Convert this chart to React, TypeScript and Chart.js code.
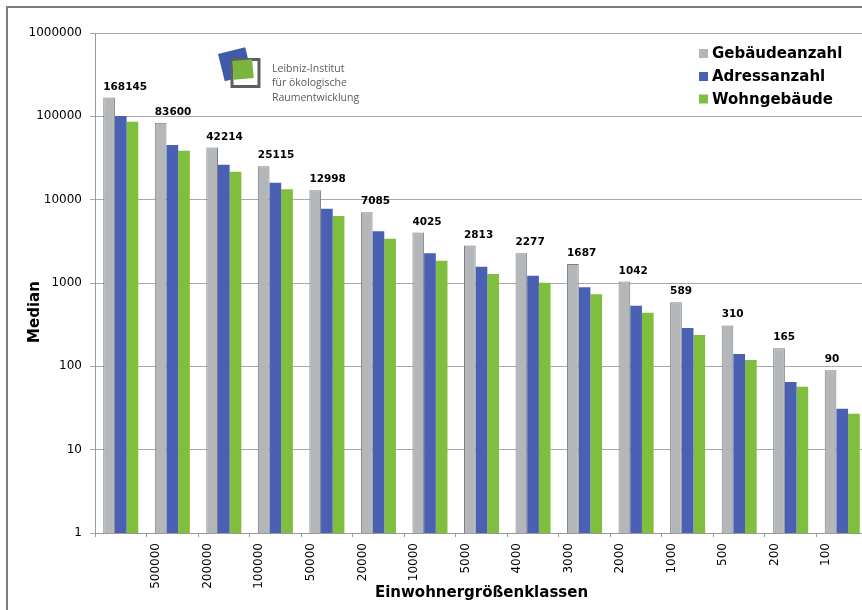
import React, { useEffect, useRef } from "react";
import { Chart, registerables } from "chart.js";

Chart.register(...registerables);

const categories = ["", "500000", "200000", "100000", "50000", "20000", "10000", "5000", "4000", "3000", "2000", "1000", "500", "200", "100"];
const gebaeudeanzahl = [168145, 83600, 42214, 25115, 12998, 7085, 4025, 2813, 2277, 1687, 1042, 589, 310, 165, 90];
const adressanzahl = [101000, 45300, 26300, 16000, 7800, 4170, 2270, 1570, 1220, 887, 535, 288, 141, 65, 31];
const wohngebaeude = [86000, 38700, 21700, 13300, 6370, 3400, 1850, 1280, 1010, 731, 440, 238, 119, 57, 27];
const yTicks = [1, 10, 100, 1000, 10000, 100000, 1000000];
const seriesNames = ["Gebäudeanzahl", "Adressanzahl", "Wohngebäude"];
const seriesColors = ["#b4b7ba", "#4a60b2", "#80be3e"];
const yTitle = "Median";
const xTitle = "Einwohnergrößenklassen";
const logoLines = ["Leibniz-Institut", "für ökologische", "Raumentwicklung"];

const FONT = "'DejaVu Sans', Verdana, sans-serif";

const valueLabels = {
  id: "valueLabels",
  afterDatasetsDraw(chart: any) {
    const ctx = chart.ctx;
    const meta = chart.getDatasetMeta(0);
    ctx.save();
    ctx.font = `bold 10.5px ${FONT}`;
    ctx.fillStyle = "#000";
    ctx.textAlign = "left";
    ctx.textBaseline = "alphabetic";
    meta.data.forEach((bar: any, i: number) => {
      const p = bar.getProps(["x", "y", "width"], true);
      ctx.fillText(String(gebaeudeanzahl[i]), p.x - p.width / 2, p.y - 8);
    });
    ctx.restore();
  },
};

const decorations = {
  id: "decorations",
  afterDraw(chart: any) {
    const ctx = chart.ctx;
    ctx.save();
    // Legend
    const rows = [53.5, 76.5, 99];
    ctx.font = `bold 15px ${FONT}`;
    ctx.textAlign = "left";
    ctx.textBaseline = "middle";
    chart.data.datasets.forEach((ds: any, i: number) => {
      ctx.fillStyle = ds.backgroundColor;
      ctx.fillRect(699, rows[i] - 4.5, 9, 9);
      ctx.fillStyle = "#000";
      ctx.fillText(ds.label, 712, rows[i] + 1);
    });

    // Y title
    ctx.save();
    ctx.translate(35, 312);
    ctx.rotate(-Math.PI / 2);
    ctx.font = `bold 15px ${FONT}`;
    ctx.textAlign = "center";
    ctx.textBaseline = "middle";
    ctx.fillStyle = "#000";
    ctx.fillText(yTitle, 0, 0);
    ctx.restore();

    // Logo
    ctx.save();
    ctx.translate(218, 54);
    ctx.rotate((-14 * Math.PI) / 180);
    ctx.fillStyle = "#3f5aa9";
    ctx.fillRect(0, 0, 28, 28);
    ctx.restore();
    ctx.save();
    ctx.fillStyle = "#ffffff";
    ctx.fillRect(233, 61, 25, 24);
    ctx.strokeStyle = "#5e5e5e";
    ctx.lineWidth = 3;
    ctx.strokeRect(232, 59.5, 27, 27);
    ctx.restore();
    ctx.save();
    ctx.translate(243, 70);
    ctx.rotate((-5 * Math.PI) / 180);
    ctx.fillStyle = "#7ab43f";
    ctx.fillRect(-10, -10, 20, 19);
    ctx.restore();
    ctx.font = `10.5px 'Open Sans', sans-serif`;
    ctx.fillStyle = "#5a5a5a";
    ctx.textAlign = "left";
    ctx.textBaseline = "middle";
    logoLines.forEach((t, i) => ctx.fillText(t, 272, 69 + i * 14.5));
    ctx.restore();
  },
};

export default function App() {
  const ref = useRef<HTMLCanvasElement | null>(null);

  useEffect(() => {
    if (!ref.current) return;
    const data = [gebaeudeanzahl, adressanzahl, wohngebaeude];
    const chart = new Chart(ref.current, {
      type: "bar",
      data: {
        labels: categories,
        datasets: data.map((d, i) => ({
          label: seriesNames[i],
          data: d,
          backgroundColor: seriesColors[i],
          borderColor: i === 0 ? "#7c7f83" : seriesColors[i],
          borderWidth: i === 0 ? 1 : 0,
          borderSkipped: "bottom",
          categoryPercentage: 0.68,
          barPercentage: 1.0,
        })),
      },
      options: {
        responsive: false,
        devicePixelRatio: 1,
        animation: false,
        layout: { padding: { left: 0, top: 33, right: 2, bottom: 0 } },
        plugins: {
          legend: { display: false },
          tooltip: { enabled: false },
          title: { display: false },
        },
        scales: {
          x: {
            type: "category",
            grid: {
              display: true,
              drawOnChartArea: false,
              drawTicks: true,
              tickLength: 4,
              color: "#9a9a9a",
            },
            border: { display: true, color: "#9a9a9a" },
            ticks: {
              color: "#000",
              font: { family: FONT, size: 12 },
              minRotation: 90,
              maxRotation: 90,
              autoSkip: false,
              padding: 6,
              labelOffset: -16,
            },
            title: {
              display: true,
              text: xTitle,
              color: "#000",
              font: { family: FONT, size: 15, weight: "bold" },
              padding: { top: 0, bottom: 8 },
            },
            afterFit(scale: any) {
              scale.height = 77;
            },
          },
          y: {
            type: "logarithmic",
            min: 1,
            max: 1000000,
            grid: {
              color: "#a8a8a8",
              drawTicks: true,
              tickLength: 5,
            },
            border: { display: true, color: "#9a9a9a" },
            ticks: {
              color: "#000",
              font: { family: FONT, size: 12 },
              padding: 8,
              callback: (v: any) => String(v),
            },
            afterBuildTicks(scale: any) {
              scale.ticks = yTicks.map((v) => ({ value: v }));
            },
            afterFit(scale: any) {
              scale.width = 95;
            },
          },
        },
      },
      plugins: [valueLabels, decorations],
    });
    return () => chart.destroy();
  }, []);

  return (
    <div
      style={{
        position: "fixed",
        left: 0,
        top: 0,
        width: 862,
        height: 610,
        overflow: "hidden",
        background: "#fff",
      }}
    >
      <div
        style={{
          position: "absolute",
          left: 6,
          top: 6,
          width: 1000,
          height: 1000,
          borderLeft: "2px solid #7c7c7c",
          borderTop: "2px solid #7c7c7c",
        }}
      />
      <canvas
        ref={ref}
        width={870}
        height={610}
        style={{ position: "absolute", left: 0, top: 0, width: 870, height: 610 }}
      />
    </div>
  );
}
